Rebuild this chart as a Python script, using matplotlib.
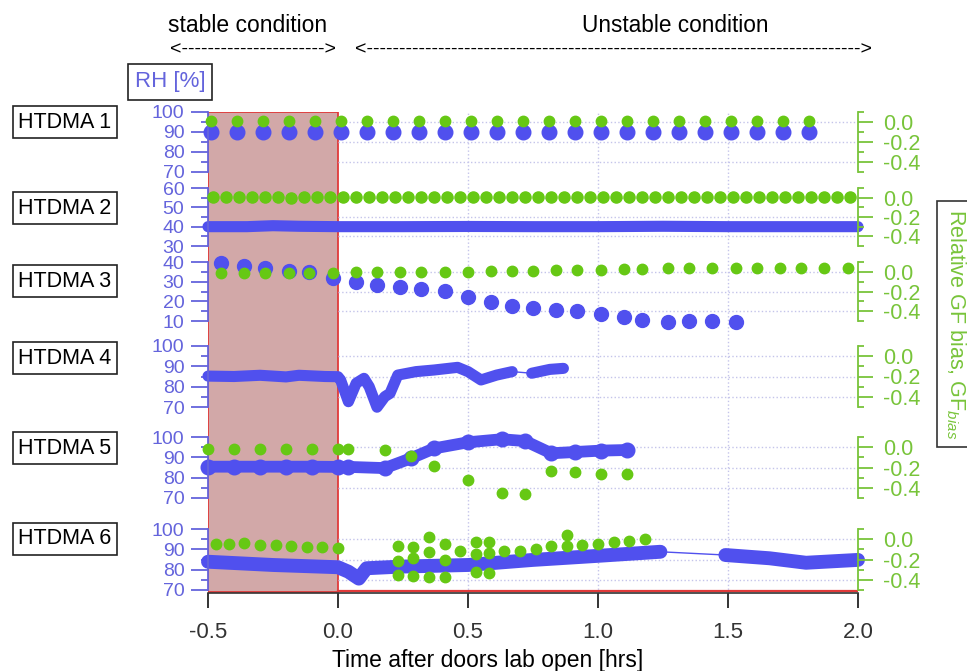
import matplotlib
matplotlib.use('Agg')
import matplotlib.pyplot as plt
from matplotlib.ticker import MultipleLocator, FixedLocator, FormatStrFormatter
from matplotlib.patches import Rectangle

plt.rcParams['font.family'] = ['Liberation Sans', 'DejaVu Sans']
plt.rcParams['mathtext.fontset'] = 'custom'
plt.rcParams['mathtext.rm'] = 'Liberation Sans'
plt.rcParams['mathtext.it'] = 'Liberation Sans:italic'
plt.rcParams['axes.unicode_minus'] = False

# ---- data (time in hrs after doors opened) ----
p1_time = [-0.49, -0.39, -0.29, -0.19, -0.09, 0.01, 0.11, 0.21, 0.31, 0.41, 0.51, 0.61,
           0.71, 0.81, 0.91, 1.01, 1.11, 1.21, 1.31, 1.41, 1.51, 1.61, 1.71, 1.81]
p1_rh = [90.0, 90.0, 90.0, 90.0, 90.0, 90.0, 90.0, 90.0, 90.0, 90.0, 90.0, 90.0,
         90.0, 90.0, 90.0, 90.0, 90.0, 90.0, 90.0, 90.0, 90.0, 90.0, 90.0, 90.0]
p1_bias = [0.01, 0.01, 0.01, 0.01, 0.01, 0.01, 0.01, 0.01, 0.01, 0.01, 0.01, 0.01,
           0.01, 0.01, 0.01, 0.01, 0.01, 0.01, 0.01, 0.01, 0.01, 0.01, 0.01, 0.01]

p2_rh_time = [-0.5, -0.35, -0.25, -0.15, 0.0, 0.25, 0.5, 0.75, 1.0, 1.25, 1.5, 1.75, 2.0]
p2_rh = [40.0, 40.0, 40.5, 40.2, 40.0, 40.0, 40.1, 40.0, 40.0, 40.2, 40.0, 40.0, 40.0]
p2_bias_time = [-0.48, -0.43, -0.38, -0.33, -0.28, -0.23, -0.18, -0.13, -0.08, -0.03,
                0.02, 0.07, 0.12, 0.17, 0.22, 0.27, 0.32, 0.37, 0.42, 0.47,
                0.52, 0.57, 0.62, 0.67, 0.72, 0.77, 0.82, 0.87, 0.92, 0.97,
                1.02, 1.07, 1.12, 1.17, 1.22, 1.27, 1.32, 1.37, 1.42, 1.47,
                1.52, 1.57, 1.62, 1.67, 1.72, 1.77, 1.82, 1.87, 1.92, 1.97]
p2_bias = [0.01, 0.01, 0.01, 0.01, 0.01, 0.01, 0.0, 0.01, 0.01, 0.01,
           0.01, 0.01, 0.01, 0.01, 0.01, 0.01, 0.01, 0.01, 0.01, 0.01,
           0.01, 0.01, 0.01, 0.01, 0.01, 0.01, 0.01, 0.01, 0.01, 0.01,
           0.01, 0.01, 0.01, 0.01, 0.01, 0.01, 0.01, 0.01, 0.01, 0.01,
           0.01, 0.01, 0.01, 0.01, 0.01, 0.01, 0.01, 0.01, 0.01, 0.01]

p3_time = [-0.45, -0.36, -0.28, -0.19, -0.11, -0.02, 0.07, 0.15, 0.24, 0.32, 0.41, 0.50,
           0.59, 0.67, 0.75, 0.84, 0.92, 1.01, 1.10, 1.17, 1.27, 1.35, 1.44, 1.53]
p3_rh = [39.3, 38.1, 36.8, 35.6, 34.8, 31.7, 30.0, 28.3, 27.1, 26.3, 25.3, 22.4,
         19.8, 17.6, 16.8, 15.6, 15.1, 13.6, 12.2, 10.5, 9.7, 10.0, 10.1, 9.4]
p3_bias_time = [-0.45, -0.36, -0.28, -0.19, -0.11, -0.02, 0.07, 0.15, 0.24, 0.32, 0.41, 0.50,
                0.59, 0.67, 0.75, 0.84, 0.92, 1.01, 1.10, 1.17, 1.27, 1.35, 1.44, 1.53,
                1.61, 1.70, 1.78, 1.87, 1.96]
p3_bias = [-0.01, -0.01, -0.01, -0.01, -0.01, -0.01, 0.0, 0.0, 0.0, 0.0, 0.0, 0.0,
           0.01, 0.01, 0.01, 0.02, 0.02, 0.02, 0.03, 0.03, 0.04, 0.04, 0.04, 0.04,
           0.04, 0.04, 0.04, 0.04, 0.04]

p4_time_a = [-0.5, -0.4, -0.3, -0.2, -0.15, -0.1, -0.05, 0.0, 0.01, 0.04, 0.07, 0.10,
             0.12, 0.15, 0.18, 0.20, 0.23, 0.30, 0.37, 0.46, 0.50, 0.55, 0.61, 0.67]
p4_rh_a = [85.2, 85.0, 85.6, 84.8, 85.6, 85.3, 85.0, 84.9, 83.3, 72.6, 81.7, 84.1,
           80.0, 69.9, 75.1, 76.7, 85.7, 87.4, 88.2, 89.5, 87.4, 83.3, 85.7, 87.4]
p4_time_b = [0.745, 0.815, 0.867]
p4_rh_b = [86.6, 88.5, 89.0]

p5_time = [-0.5, -0.4, -0.3, -0.2, -0.1, 0.0, 0.04, 0.18, 0.28, 0.37, 0.50, 0.63,
           0.72, 0.82, 0.91, 1.01, 1.11]
p5_rh = [85.4, 85.4, 85.4, 85.4, 85.4, 85.3, 85.3, 84.7, 89.5, 94.4, 97.4, 98.9,
         98.0, 92.0, 92.6, 93.3, 93.6]
p5_bias = [-0.02, -0.02, -0.02, -0.02, -0.02, -0.02, -0.02, -0.03, -0.09, -0.19, -0.32, -0.45,
           -0.46, -0.23, -0.24, -0.26, -0.26]

p6_time_a = [-0.5, -0.25, 0.0, 0.04, 0.08, 0.11, 0.24, 0.5, 0.75, 1.0, 1.24]
p6_rh_a = [83.9, 82.3, 81.2, 79.0, 75.6, 80.7, 81.5, 82.3, 84.8, 86.8, 88.8]
p6_time_b = [1.49, 1.66, 1.80, 2.0]
p6_rh_b = [87.2, 85.6, 83.4, 84.8]
p6_bias_time = [-0.47, -0.42, -0.36, -0.30, -0.24, -0.18, -0.12, -0.06, 0.0,
                0.23, 0.23, 0.23, 0.29, 0.29, 0.29, 0.35, 0.35, 0.35, 0.41, 0.41, 0.41,
                0.47, 0.53, 0.53, 0.53, 0.58, 0.58, 0.58, 0.64, 0.70, 0.76, 0.82,
                0.88, 0.88, 0.94, 1.00, 1.06, 1.12, 1.18]
p6_bias = [-0.05, -0.05, -0.04, -0.06, -0.06, -0.07, -0.08, -0.08, -0.09,
           -0.07, -0.21, -0.35, -0.08, -0.19, -0.36, 0.02, -0.13, -0.37, -0.05, -0.20, -0.37,
           -0.12, -0.03, -0.15, -0.32, -0.03, -0.14, -0.33, -0.12, -0.12, -0.10, -0.07,
           0.04, -0.07, -0.06, -0.05, -0.03, -0.02, 0.0]

names = ['HTDMA 1', 'HTDMA 2', 'HTDMA 3', 'HTDMA 4', 'HTDMA 5', 'HTDMA 6']
rh_lims = [(70, 100), (30, 60), (10, 40), (70, 100), (70, 100), (70, 100)]
bias_ticks = [0.0, -0.2, -0.4]
x_ticks = [-0.5, 0.0, 0.5, 1.0, 1.5, 2.0]

# ---- style ----
BLUE = '#5050ee'
BLUE_AX = '#6464dc'
GREEN = '#66c814'
GREEN_AX = '#78c43a'
RED = '#e03a3a'
SHADE = '#d2a8a8'
GRID = '#c4c4ea'

W, H = 967, 671
fig = plt.figure(figsize=(W / 100, H / 100), dpi=100)


def px(x0, y0, x1, y1):
    return [x0 / W, 1 - y1 / H, (x1 - x0) / W, (y1 - y0) / H]


# background: shading, vertical grid, time axis
bg = fig.add_axes(px(208, 112, 858, 593))
bg.set_xlim(-0.5, 2.0)
bg.set_ylim(0, 1)
bg.set_yticks([])
for s in ['top', 'left', 'right']:
    bg.spines[s].set_visible(False)
bg.spines['bottom'].set_color('#333333')
bg.spines['bottom'].set_linewidth(1.2)
bg.set_xticks(x_ticks)
bg.xaxis.set_major_formatter(FormatStrFormatter('%.1f'))
bg.tick_params(axis='x', direction='out', length=11, width=1.4, colors='#333333',
               labelsize=16, pad=10)
for xv in [0.5, 1.0, 1.5]:
    bg.axvline(xv, color=GRID, ls=':', lw=1.0, zorder=0)
bg.add_patch(Rectangle((-0.5, 0.003), 0.5, 0.997, facecolor=SHADE, edgecolor=RED,
                       lw=1.3, zorder=1))
bg.plot([0.0, 2.0], [0.004, 0.004], color=RED, lw=1.6, zorder=2)
fig.text(488 / W, 1 - 660 / H, 'Time after doors lab open [hrs]', fontsize=16.5,
         ha='center', va='center')

panel_px = [(112, 172), (188, 246), (262, 321), (346, 407), (437, 498), (529, 590)]
label_y = [122, 208, 281, 358, 448, 539]

axes = []
for i, (top, bot) in enumerate(panel_px):
    ax = fig.add_axes(px(208, top, 858, bot))
    ax.patch.set_visible(False)
    ax.set_xlim(-0.5, 2.0)
    lo, hi = rh_lims[i]
    ax.set_ylim(lo, hi)
    for s in ['top', 'right', 'bottom']:
        ax.spines[s].set_visible(False)
    ax.spines['left'].set_color(BLUE_AX)
    ax.spines['left'].set_linewidth(1.3)
    ax.set_xticks([])
    ax.yaxis.set_major_locator(MultipleLocator(10))
    ax.yaxis.set_minor_locator(MultipleLocator(5))
    ax.tick_params(axis='y', which='major', length=12, width=1.3, colors=BLUE_AX,
                   labelsize=14, pad=5)
    ax.tick_params(axis='y', which='minor', length=5, width=1.3, colors=BLUE_AX)

    ax2 = ax.twinx()
    ax2.set_ylim(-0.5, 0.1)
    for s in ['top', 'left', 'bottom']:
        ax2.spines[s].set_visible(False)
    ax2.spines['right'].set_color(GREEN_AX)
    ax2.spines['right'].set_linewidth(1.3)
    ax2.yaxis.set_major_locator(FixedLocator(bias_ticks))
    ax2.yaxis.set_minor_locator(FixedLocator([0.1, -0.1, -0.3, -0.5]))
    ax2.yaxis.set_major_formatter(FormatStrFormatter('%.1f'))
    ax2.tick_params(axis='y', which='major', length=11, width=1.3, colors=GREEN_AX,
                    labelsize=15.5, pad=7)
    ax2.tick_params(axis='y', which='minor', length=4, width=1.3, colors=GREEN_AX)

    # dotted grid at the bias ticks, right of the stable period
    grid_rh = [lo + (b + 0.5) / 0.6 * (hi - lo) for b in bias_ticks]
    ax.hlines(grid_rh, 0.0, 2.0, color=GRID, ls=':', lw=1.0, zorder=0)

    fig.text(65 / W, 1 - label_y[i] / H, names[i], fontsize=15.5, ha='center', va='center',
             bbox=dict(boxstyle='square,pad=0.26', fc='white', ec='#222222', lw=1.2))
    axes.append((ax, ax2))

# HTDMA 1
ax, ax2 = axes[0]
ax.plot(p1_time, p1_rh, 'o', color=BLUE, ms=10.5, clip_on=False)
ax2.plot(p1_time, p1_bias, 'o', color=GREEN, ms=7.5, clip_on=False)

# HTDMA 2
ax, ax2 = axes[1]
ax.plot(p2_rh_time, p2_rh, '-', color=BLUE, lw=8, solid_capstyle='round', clip_on=False)
ax2.plot(p2_bias_time, p2_bias, 'o', color=GREEN, ms=8, clip_on=False)

# HTDMA 3
ax, ax2 = axes[2]
ax.plot(p3_time, p3_rh, 'o', color=BLUE, ms=10, clip_on=False)
ax2.plot(p3_bias_time, p3_bias, 'o', color=GREEN, ms=7.5, clip_on=False)

# HTDMA 4
ax, ax2 = axes[3]
ax.plot(p4_time_a + p4_time_b, p4_rh_a + p4_rh_b, '-', color=BLUE, lw=1, clip_on=False)
ax.plot(p4_time_a, p4_rh_a, '-', color=BLUE, lw=8, solid_capstyle='round',
        solid_joinstyle='round', clip_on=False)
ax.plot(p4_time_b, p4_rh_b, '-', color=BLUE, lw=8, solid_capstyle='round',
        solid_joinstyle='round', clip_on=False)

# HTDMA 5
ax, ax2 = axes[4]
ax.plot(p5_time, p5_rh, '-', color=BLUE, lw=8.5, solid_capstyle='round',
        solid_joinstyle='round', clip_on=False)
ax.plot(p5_time, p5_rh, 'o', color=BLUE, ms=10.5, clip_on=False)
ax2.plot(p5_time, p5_bias, 'o', color=GREEN, ms=7.5, clip_on=False)

# HTDMA 6
ax, ax2 = axes[5]
ax.plot(p6_time_a + p6_time_b, p6_rh_a + p6_rh_b, '-', color=BLUE, lw=1, clip_on=False)
ax.plot(p6_time_a, p6_rh_a, '-', color=BLUE, lw=10, solid_capstyle='round',
        solid_joinstyle='round', clip_on=False)
ax.plot(p6_time_b, p6_rh_b, '-', color=BLUE, lw=10, solid_capstyle='round',
        solid_joinstyle='round', clip_on=False)
ax2.plot(p6_bias_time, p6_bias, 'o', color=GREEN, ms=7.5, clip_on=False)

# header texts
fig.text(170 / W, 1 - 82 / H, 'RH [%]', fontsize=16, color=BLUE_AX, ha='center', va='center',
         bbox=dict(boxstyle='square,pad=0.32', fc='white', ec='#222222', lw=1.2))
fig.text(248 / W, 1 - 25 / H, 'stable condition', fontsize=16.5, ha='center', va='center')
fig.text(675 / W, 1 - 25 / H, 'Unstable condition', fontsize=16.3, ha='center', va='center')
fig.text(170 / W, 1 - 50 / H, '<' + '-' * 22 + '>', fontsize=14, ha='left', va='center')
fig.text(355 / W, 1 - 50 / H, '<' + '-' * 76 + '>', fontsize=14, ha='left', va='center')

fig.text(956 / W, 1 - 324 / H, r'Relative GF bias, GF$_{bias}$', fontsize=15.5, color=GREEN_AX,
         rotation=270, ha='center', va='center',
         bbox=dict(boxstyle='square,pad=0.35', fc='white', ec='#333333', lw=1.2))

fig.savefig('out.png', dpi=100)
